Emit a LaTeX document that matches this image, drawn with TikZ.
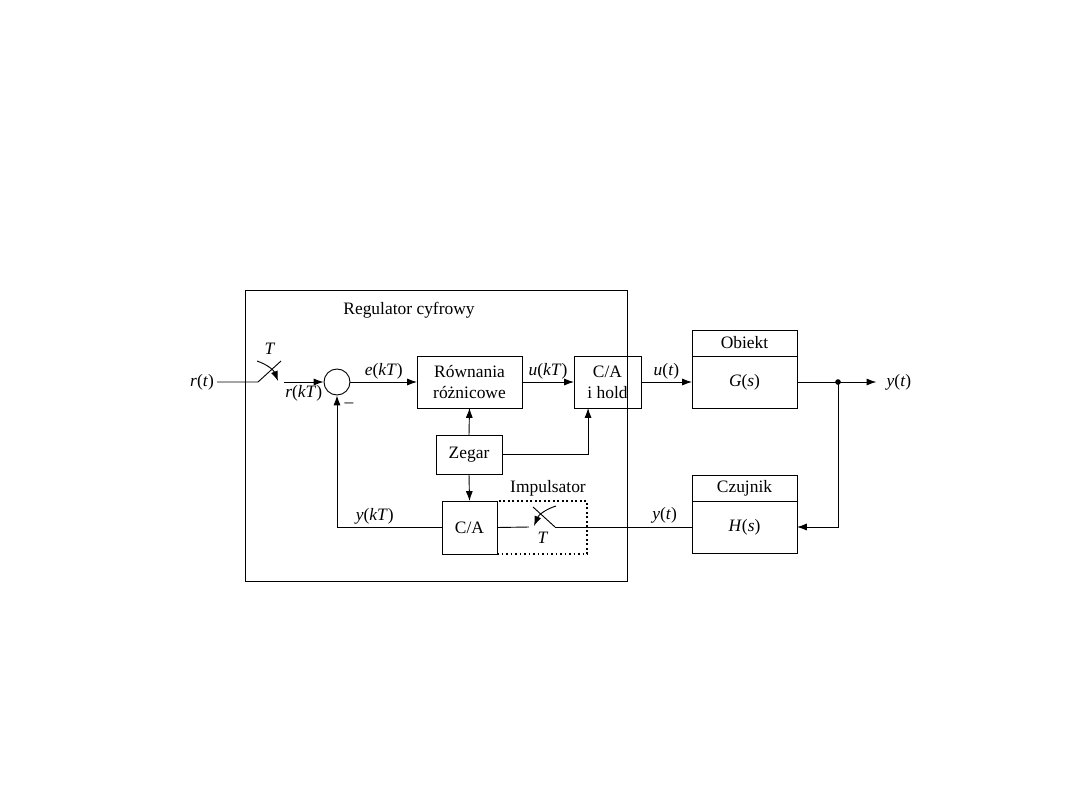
\documentclass[tikz,border=0pt]{standalone}
\usepackage{fontspec}
\setmainfont{Liberation Serif}
\usetikzlibrary{arrows.meta, positioning, calc}
\newcommand{\pxl}{0.025cm}
\newcommand{\sygn}[2]{\textit{#1}(\textit{#2})}

\begin{document}
\begin{tikzpicture}[x=\pxl, y=-\pxl, font=\fontsize{12.4}{15}\selectfont, line width=0.65pt,
    >={Latex[length=7pt,width=5pt]},
    blok/.style={draw, inner sep=1pt, outer sep=0pt, align=center},
    etykieta/.style={inner sep=2pt}]
  \useasboundingbox (0,0) rectangle (1080,810);

  % regulator cyfrowy
  \node[blok, minimum width=382*\pxl, minimum height=291*\pxl] (reg) at (436,435.5) {};
  \node (tytul) at (409,310) {Regulator cyfrowy};

  % bloki
  \node[draw, circle, minimum size=26*\pxl, inner sep=0pt] (sum) at (337,382) {};
  \node[blok, minimum width=105*\pxl, minimum height=52*\pxl] (rown) at (469.5,382) {Równania\\różnicowe};
  \node[blok, minimum width=67*\pxl, minimum height=52*\pxl] (hold) at (607.5,382) {C/A\\i hold};
  \node[blok, minimum width=66*\pxl, minimum height=39*\pxl] (zegar) at (469,454.5) {Zegar};
  \node[draw, line width=0.9pt, dash pattern=on 1.2pt off 2pt, minimum width=90*\pxl, minimum height=53*\pxl, outer sep=0pt] (imp) at (542,527.5) {};
  \node[blok, fill=white, minimum width=55*\pxl, minimum height=53*\pxl] (ca) at (469.5,527.5) {C/A};
  \node (impt) at (548,488) {Impulsator};

  \node[blok, minimum width=105*\pxl, minimum height=52*\pxl] (obbody) at (744.5,382) {\sygn{G}{s}};
  \node[blok, minimum width=105*\pxl, minimum height=26*\pxl, above=0pt of obbody] (obtit) {Obiekt};
  \node[blok, minimum width=105*\pxl, minimum height=52*\pxl] (czbody) at (744.5,527) {\sygn{H}{s}};
  \node[blok, minimum width=105*\pxl, minimum height=26*\pxl, above=0pt of czbody] (cztit) {Czujnik};

  % sygnaly
  \node[etykieta] (rt) at (202,382) {\sygn{r}{t}};
  \node[etykieta, inner xsep=7pt] (yt) at (899,382) {\sygn{y}{t}};
  \node (minus) at (349,405) {--};

  % probkownik wejsciowy
  \coordinate (s1a) at (258,382);
  \coordinate (s1b) at (281,361);
  \coordinate (s1c) at (284,382);
  \draw (rt.east) -- (s1a) -- (s1b);
  \draw[->] (257,361) to[bend left=25] (278,381);
  \node (t1) at (270,349) {\textit{T}};

  % probkownik w impulsatorze
  \coordinate (s2a) at (555,527);
  \coordinate (s2b) at (533,507);
  \coordinate (s2c) at (529,527);
  \draw (s2a) -- (s2b);
  \draw[->] (556,506) to[bend right=25] (534,526);
  \node (t2) at (543,538) {\textit{T}};

  % polaczenia
  \draw[->] (s1c) -- (sum.west) node[midway, below, etykieta] {\sygn{r}{kT}};
  \draw[->] (sum.east) -- (rown.west) node[midway, above, etykieta] {\sygn{e}{kT}};
  \draw[->] (rown.east) -- (hold.west) node[midway, above, etykieta] {\sygn{u}{kT}};
  \draw[->] (hold.east) -- (obbody.west) node[midway, above, etykieta] {\sygn{u}{t}};
  \draw[->] (obbody.east) -- (yt.west);
  \coordinate (wezel) at (838,382);
  \fill (wezel) circle (2pt);
  \draw[->] (wezel) |- (czbody.east);
  \draw (czbody.west) -- (s2a) node[pos=0.2, above, etykieta] {\sygn{y}{t}};
  \draw (s2c) -- (ca.east);
  \draw[->] (ca.west) -| (sum.south) node[pos=0.32, above, etykieta] {\sygn{y}{kT}};
  \draw[->] (zegar.north) -- (rown.south);
  \draw[->] (zegar.south) -- (ca.north);
  \draw[->] (zegar.east) -| ($(hold.south west)!0.21!(hold.south east)$);
\end{tikzpicture}
\end{document}
